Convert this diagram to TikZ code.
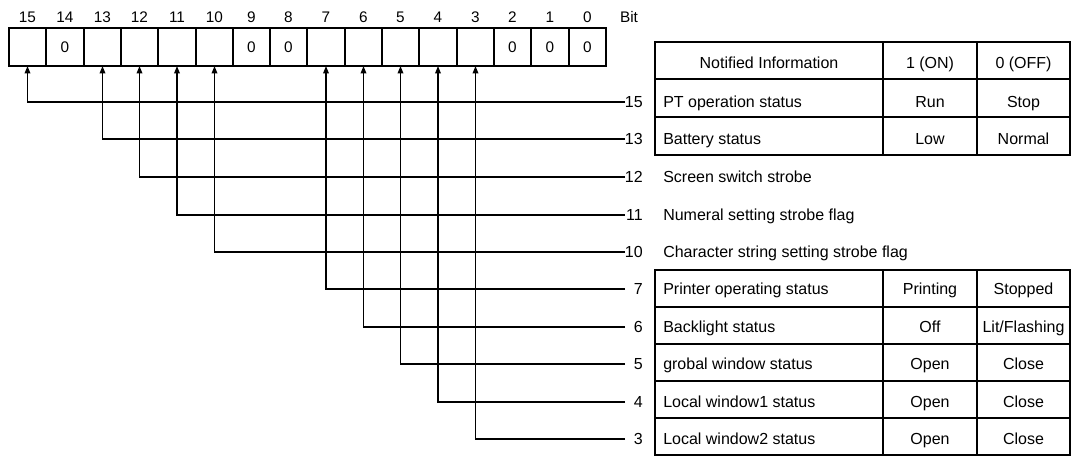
\documentclass[tikz,border=0pt]{standalone}
\usepackage{fontspec}
\setmainfont{Liberation Sans}
\usetikzlibrary{arrows.meta}
\begin{document}
\begin{tikzpicture}[x=0.75pt,y=-0.75pt,
  lw/.style={line width=1.125pt},
  fnt/.style={font=\fontsize{12}{14}\selectfont},
  sfnt/.style={font=\fontsize{11.5}{13}\selectfont},
  cell/.style={draw,lw,sfnt,minimum height=28.5pt,inner sep=0pt,outer sep=0pt},
  txt/.style={fnt,inner sep=0pt},
  arr/.style={lw,-{Triangle[length=5.6pt,width=4.2pt]}}]
\useasboundingbox (0,0) rectangle (1072,456);
% bit cells and numbers
\foreach \b/\v in {15/,14/0,13/,12/,11/,10/,9/0,8/0,7/,6/,5/,4/,3/,2/0,1/0,0/0} {
  \pgfmathsetmacro\xl{round(9+37.3*(15-\b))}
  \pgfmathsetmacro\xr{round(9+37.3*(16-\b))}
  \pgfmathsetmacro\cx{(\xl+\xr)/2}
  \pgfmathsetmacro\cw{(\xr-\xl)*0.75}
  \node[cell,minimum width=\cw pt] (c\b) at (\cx,47) {\v};
  \node[txt,sfnt,anchor=base] (h\b) at (\cx,23) {\b};
}
\node[txt,sfnt,anchor=base] (bit) at (629,23) {Bit};
% tables
\draw[lw] (655,42) rectangle (1070,155);
\draw[lw] (655,79) -- (1070,79) (655,117) -- (1070,117)
          (883,42) -- (883,155) (977,42) -- (977,155);
\draw[lw] (655,270) rectangle (1070,455);
\draw[lw] (655,307) -- (1070,307) (655,344) -- (1070,344)
          (655,381) -- (1070,381) (655,418) -- (1070,418)
          (883,270) -- (883,455) (977,270) -- (977,455);
\node[txt,anchor=base] (hinfo) at (769,69) {Notified Information};
\node[txt,anchor=base] (hon) at (930,69) {1 (ON)};
\node[txt,anchor=base] (hoff) at (1023.5,69) {0 (OFF)};
% rows
\foreach \b/\y/\t/\on/\off in {
  15/102/PT operation status/Run/Stop,
  13/139/Battery status/Low/Normal,
  12/177/Screen switch strobe//,
  11/215/Numeral setting strobe flag//,
  10/252/Character string setting strobe flag//,
  7/289/Printer operating status/Printing/Stopped,
  6/327/Backlight status/Off/{Lit/Flashing},
  5/364/grobal window status/Open/Close,
  4/402/Local window1 status/Open/Close,
  3/439/Local window2 status/Open/Close} {
  \node[txt,anchor=base east] (n\b) at (643,\y+5.5) {\b};
  \node[txt,anchor=base west] (r\b) at (663,\y+5.5) {\t};
  \node[txt,anchor=base] (on\b) at (930,\y+5.5) {\on};
  \node[txt,anchor=base] (off\b) at (1023.5,\y+5.5) {\off};
  \coordinate (e\b) at (625,\y);
  \draw[arr] (e\b) -| (c\b.south);
}
\end{tikzpicture}
\end{document}
